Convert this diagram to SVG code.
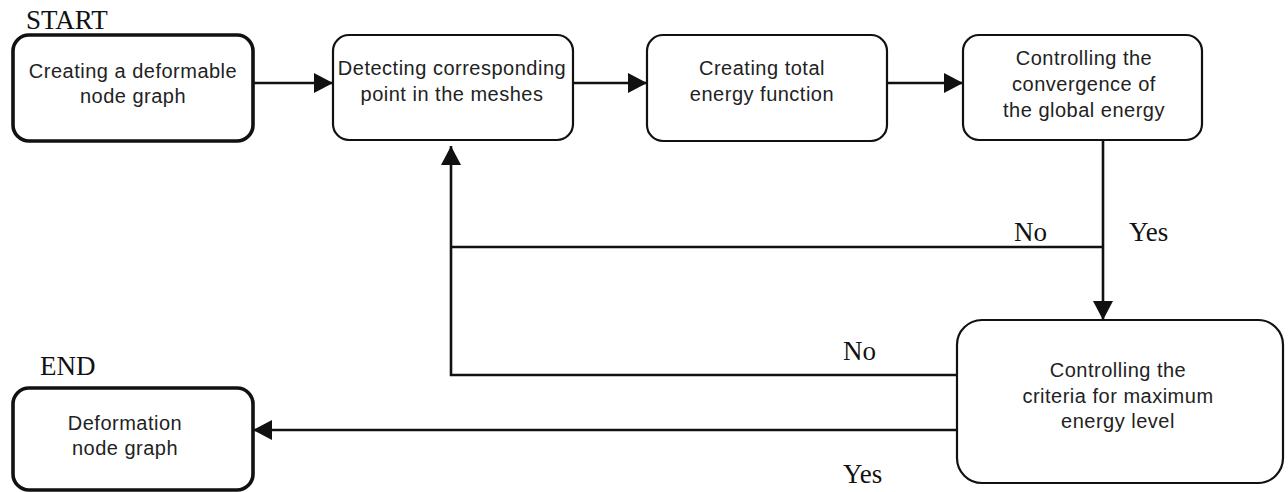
<svg xmlns="http://www.w3.org/2000/svg" width="1288" height="492" viewBox="0 0 1288 492">
<style>
  .box { fill: #fff; stroke: #111; stroke-width: 2.2; }
  .thick { stroke-width: 3.6; }
  .t { font-family: "Liberation Sans", Arial, sans-serif; font-size: 20px; letter-spacing: 0.5px; fill: #222; text-anchor: middle; }
  .lbl { font-family: "Liberation Serif", "Times New Roman", serif; font-size: 27px; fill: #111; }
  .c { fill: none; stroke: #111; stroke-width: 2.6; }
</style>
<defs>
  <marker id="ah" markerUnits="userSpaceOnUse" markerWidth="19" markerHeight="20" refX="19" refY="10" orient="auto">
    <path d="M0,0 L19,10 L0,20 z" fill="#111"/>
  </marker>
</defs>
<rect width="1288" height="492" fill="#fff"/>
<g id="connectors">
  <path class="c" d="M253,83 H333" marker-end="url(#ah)"/>
  <path class="c" d="M573,83 H647" marker-end="url(#ah)"/>
  <path class="c" d="M887,83 H963" marker-end="url(#ah)"/>
  <path class="c" d="M1103,140 V320" marker-end="url(#ah)"/>
  <path class="c" d="M1103,247 H451"/>
  <path class="c" d="M957,375 H451 V146" marker-end="url(#ah)"/>
  <path class="c" d="M957,430 H253" marker-end="url(#ah)"/>
</g>
<g id="labels">
  <text class="lbl" x="26" y="29">START</text>
  <text class="lbl" x="40" y="375">END</text>
  <text class="lbl" x="1014" y="241">No</text>
  <text class="lbl" x="1129" y="241">Yes</text>
  <text class="lbl" x="843" y="360">No</text>
  <text class="lbl" x="843" y="483">Yes</text>
</g>
<g id="n1">
  <rect class="box thick" x="13" y="35" width="240" height="106" rx="16"/>
  <text class="t" x="133" y="78">Creating a deformable</text>
  <text class="t" x="133" y="103">node graph</text>
</g>
<g id="n2">
  <rect class="box" x="333" y="35" width="240" height="105" rx="16"/>
  <text class="t" x="452" y="75">Detecting corresponding</text>
  <text class="t" x="452" y="101">point in the meshes</text>
</g>
<g id="n3">
  <rect class="box" x="647" y="35" width="240" height="106" rx="16"/>
  <text class="t" x="762" y="75">Creating total</text>
  <text class="t" x="762" y="101">energy function</text>
</g>
<g id="n4">
  <rect class="box" x="963" y="35" width="239" height="105" rx="16"/>
  <text class="t" x="1084" y="65">Controlling the</text>
  <text class="t" x="1084" y="91">convergence of</text>
  <text class="t" x="1084" y="117">the global energy</text>
</g>
<g id="n5">
  <rect class="box" x="957" y="320" width="326" height="163" rx="25"/>
  <text class="t" x="1118" y="377">Controlling the</text>
  <text class="t" x="1118" y="403">criteria for maximum</text>
  <text class="t" x="1118" y="428">energy level</text>
</g>
<g id="n6">
  <rect class="box thick" x="13" y="388" width="240" height="102" rx="16"/>
  <text class="t" x="125" y="430">Deformation</text>
  <text class="t" x="125" y="455">node graph</text>
</g>
</svg>
